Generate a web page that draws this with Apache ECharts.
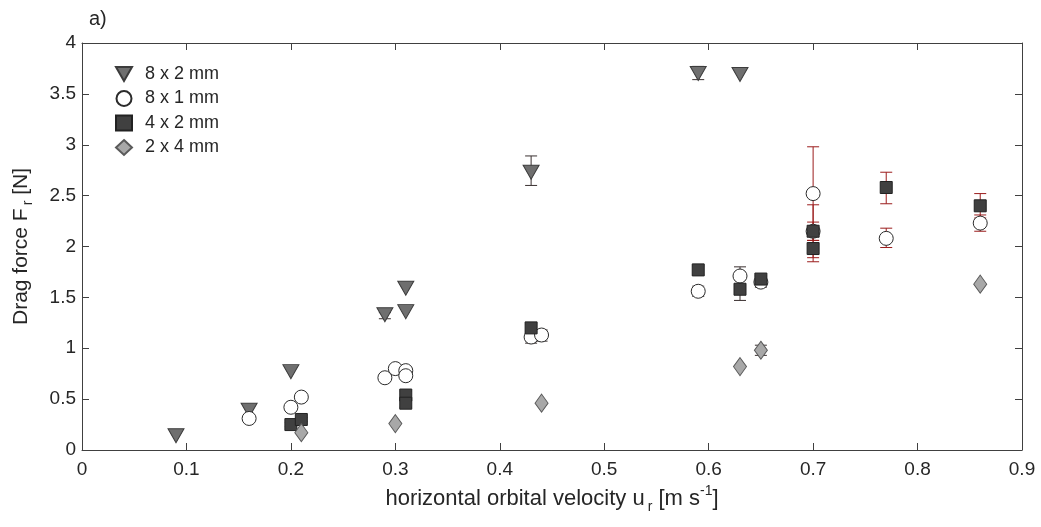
<!DOCTYPE html>
<html><head><meta charset="utf-8">
<script src="https://cdn.jsdelivr.net/npm/echarts@6/dist/echarts.min.js"></script>
<style>html,body{margin:0;padding:0;background:#fff}#c{width:1041px;height:527px}</style>
</head><body><div id="c"></div>
<script>
// ---- data ----
const seriesNames = ['8 x 2 mm', '8 x 1 mm', '4 x 2 mm', '2 x 4 mm'];
const xTicks = [0, 0.1, 0.2, 0.3, 0.4, 0.5, 0.6, 0.7, 0.8, 0.9];
const yTicks = [0, 0.5, 1, 1.5, 2, 2.5, 3, 3.5, 4];

const tri_x  = [0.09, 0.16, 0.20, 0.29, 0.31, 0.31, 0.43, 0.59, 0.63];
const tri_y  = [0.14, 0.39, 0.77, 1.33, 1.59, 1.36, 2.73, 3.70, 3.69];
const tri_lo = [null, null, null, 1.29, null, null, 2.60, 3.64, null];
const tri_hi = [null, null, null, 1.35, null, null, 2.89, 3.77, null];

const cir_x  = [0.16, 0.20, 0.21, 0.29, 0.30, 0.31, 0.31, 0.43, 0.44, 0.59, 0.63, 0.65, 0.70, 0.70, 0.77, 0.86];
const cir_y  = [0.31, 0.42, 0.52, 0.71, 0.80, 0.78, 0.73, 1.11, 1.13, 1.56, 1.71, 1.65, 2.52, 2.15, 2.08, 2.23];
const cir_lo = [null, null, null, null, null, 0.75, 0.70, 1.05, 1.07, 1.51, 1.62, 1.60, 2.06, 1.89, 1.99, 2.15];
const cir_hi = [null, null, null, null, null, 0.81, 0.76, 1.17, 1.18, 1.61, 1.80, 1.69, 2.98, 2.41, 2.18, 2.31];

const sq_x  = [0.20, 0.21, 0.31, 0.31, 0.43, 0.59, 0.63, 0.65, 0.70, 0.70, 0.77, 0.86];
const sq_y  = [0.25, 0.30, 0.54, 0.46, 1.20, 1.77, 1.58, 1.68, 2.15, 1.98, 2.58, 2.40];
const sq_lo = [0.23, 0.28, 0.50, 0.42, 1.16, 1.72, 1.47, 1.62, 2.06, 1.85, 2.42, 2.28];
const sq_hi = [0.27, 0.32, 0.58, 0.50, 1.24, 1.81, 1.68, 1.71, 2.24, 2.11, 2.73, 2.52];

const dia_x  = [0.21, 0.30, 0.44, 0.63, 0.65, 0.86];
const dia_y  = [0.17, 0.26, 0.46, 0.82, 0.98, 1.63];
const dia_lo = [null, null, null, null, 0.93, null];
const dia_hi = [null, null, null, null, 1.03, null];

// ---- build ----
const groups = [
  {x: tri_x, y: tri_y, lo: tri_lo, hi: tri_hi},
  {x: cir_x, y: cir_y, lo: cir_lo, hi: cir_hi},
  {x: sq_x, y: sq_y, lo: sq_lo, hi: sq_hi},
  {x: dia_x, y: dia_y, lo: dia_lo, hi: dia_hi}
];
const styles = [
  {symbol: 'path://M0,0 L12,0 L6,10.4 Z', size: [16, 14], color: '#6f6f6f', border: '#3c3c3c'},
  {symbol: 'circle', size: 14, color: '#ffffff', border: '#2b2b2b'},
  {symbol: 'rect', size: 12, color: '#404040', border: '#222222'},
  {symbol: 'diamond', size: [13, 18], color: '#a8a8a8', border: '#5a5a5a'}
];
const errData = [];
groups.forEach(g => g.x.forEach((x, i) => {
  if (g.lo[i] != null) errData.push([x, g.lo[i], g.hi[i]]);
}));

const txt = '#262626';
const font = 'Liberation Sans, Arial, sans-serif';

const series = [{
  type: 'custom',
  xAxisIndex: 0, yAxisIndex: 0,
  data: errData,
  z: 1,
  silent: true,
  renderItem: function (params, api) {
    const x = api.value(0);
    const p1 = api.coord([x, api.value(1)]);
    const p2 = api.coord([x, api.value(2)]);
    const hw = 6;
    const col = x >= 0.695 ? '#9b1c1c' : '#3a3030';
    const st = {stroke: col, lineWidth: 1};
    return {type: 'group', children: [
      {type: 'line', shape: {x1: p1[0], y1: p1[1], x2: p2[0], y2: p2[1]}, style: st},
      {type: 'line', shape: {x1: p1[0] - hw, y1: p1[1], x2: p1[0] + hw, y2: p1[1]}, style: st},
      {type: 'line', shape: {x1: p2[0] - hw, y1: p2[1], x2: p2[0] + hw, y2: p2[1]}, style: st}
    ]};
  },
  encode: {x: 0, y: [1, 2]}
}];
groups.forEach((g, k) => {
  const s = styles[k];
  series.push({
    name: seriesNames[k],
    type: 'scatter',
    xAxisIndex: 0, yAxisIndex: 0,
    symbol: s.symbol,
    symbolSize: s.size,
    z: 2 + k,
    itemStyle: {color: s.color, borderColor: s.border, borderWidth: 1, opacity: 1},
    data: g.x.map((x, i) => [x, g.y[i]])
  });
});

const axisCommon = {
  axisLine: {onZero: false, lineStyle: {color: '#404040', width: 1}},
  axisTick: {inside: true, length: 7, lineStyle: {color: '#404040'}},
  splitLine: {show: false}
};

const option = {
  backgroundColor: '#ffffff',
  animation: false,
  textStyle: {fontFamily: font},
  title: {text: 'a)', left: 84, top: 4, textStyle: {fontFamily: font, fontSize: 20, fontWeight: 'normal', color: txt}},
  legend: {
    orient: 'vertical', left: 110, top: 60, itemGap: 6.5, itemWidth: 16, itemHeight: 15,
    data: seriesNames,
    textStyle: {fontFamily: font, fontSize: 18, color: txt, padding: [0, 0, 0, 8]}
  },
  grid: {left: 82, right: 19, top: 43, bottom: 77, containLabel: false},
  xAxis: [
    Object.assign({}, axisCommon, {
      type: 'value', min: 0, max: 0.9, interval: 0.1, position: 'bottom',
      axisLabel: {fontFamily: font, fontSize: 19, color: txt, margin: 10,
        formatter: v => { const t = xTicks.find(q => Math.abs(q - v) < 1e-9); return t === undefined ? '' : String(t); }},
      name: '{n|horizontal orbital velocity u}{s|r}{n| [m s}{p|-1}{n|]}',
      nameLocation: 'middle', nameGap: 31,
      nameTextStyle: {rich: {
        n: {fontFamily: font, fontSize: 22, color: txt},
        s: {fontFamily: font, fontSize: 14, color: txt, verticalAlign: 'bottom', padding: [16, 0, 0, 3]},
        p: {fontFamily: font, fontSize: 14, color: txt, verticalAlign: 'top', padding: [0, 0, 12, 0]}
      }}
    }),
    Object.assign({}, axisCommon, {
      type: 'value', min: 0, max: 0.9, interval: 0.1, position: 'top',
      axisLabel: {show: false}
    })
  ],
  yAxis: [
    Object.assign({}, axisCommon, {
      type: 'value', min: 0, max: 4, interval: 0.5, position: 'left',
      axisLabel: {fontFamily: font, fontSize: 19, color: txt, margin: 6,
        formatter: v => { const t = yTicks.find(q => Math.abs(q - v) < 1e-9); return t === undefined ? '' : String(t); }},
      name: '{n|Drag force F}{s|r}{n| [N]}',
      nameLocation: 'middle', nameGap: 47, nameRotate: 90,
      nameTextStyle: {rich: {
        n: {fontFamily: font, fontSize: 21, color: txt},
        s: {fontFamily: font, fontSize: 14, color: txt, verticalAlign: 'bottom', padding: [14, 0, 0, 3]}
      }}
    }),
    Object.assign({}, axisCommon, {
      type: 'value', min: 0, max: 4, interval: 0.5, position: 'right',
      axisLabel: {show: false}
    })
  ],
  series: series
};
const chart = echarts.init(document.getElementById('c'), null, {renderer: 'canvas'});
chart.setOption(option);
</script>
</body></html>
